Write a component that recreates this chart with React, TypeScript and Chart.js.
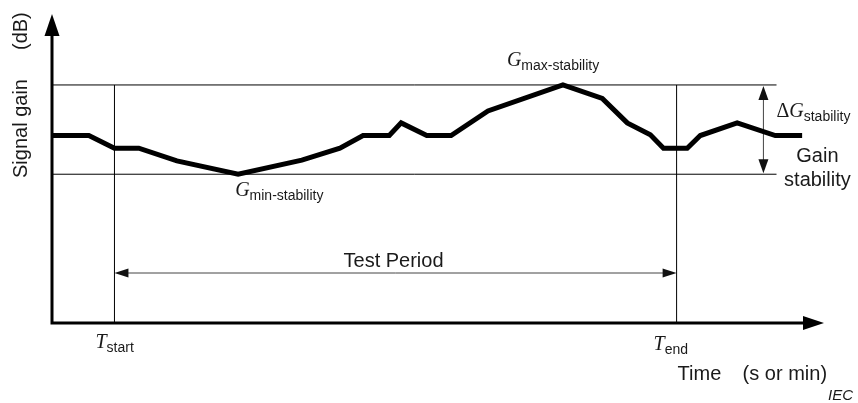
import React, { useEffect, useRef } from "react";
import { Chart, registerables } from "chart.js";

Chart.register(...registerables);

// Time (arbitrary units): T_start = 10, T_end = 100
const timeValues = [0, 5.9, 10, 13.9, 20, 29.8, 40, 46.1, 49.8, 54, 55.9, 60, 63.9, 69.8, 81.8, 88.1, 92.1, 95.8, 97.9, 101.7, 103.8, 109.7, 115.8, 120.1];
// Signal gain (dB, arbitrary): G_min = 10, G_max = 16
const gainValues = [12.6, 12.6, 11.75, 11.75, 10.9, 10.0, 10.95, 11.75, 12.6, 12.6, 13.45, 12.6, 12.6, 14.25, 16.0, 15.1, 13.45, 12.65, 11.75, 11.75, 12.6, 13.45, 12.6, 12.6];

const timeMarks = [10, 100]; // T_start, T_end
const gainLimits = [10, 16]; // G_min, G_max
const testPeriodLevel = 3.36;
const deltaArrowTime = 113.9;
const limitLineEnd = 116;
const axisMax = { x: 123.6, y: 20.77 };

const TEXT = "#1a1a1a";
const SANS = "'Liberation Sans', Arial, sans-serif";
const SERIF = "'Liberation Serif', 'Times New Roman', serif";

function arrowHead(ctx: CanvasRenderingContext2D, tipX: number, tipY: number, dirX: number, dirY: number, len: number, half: number, color: string) {
  const bx = tipX - dirX * len;
  const by = tipY - dirY * len;
  const px = -dirY;
  const py = dirX;
  ctx.save();
  ctx.fillStyle = color;
  ctx.beginPath();
  ctx.moveTo(tipX, tipY);
  ctx.lineTo(bx + px * half, by + py * half);
  ctx.lineTo(bx - px * half, by - py * half);
  ctx.closePath();
  ctx.fill();
  ctx.restore();
}

function symbolLabel(ctx: CanvasRenderingContext2D, main: string, sub: string, x: number, y: number, prefix?: string) {
  ctx.save();
  ctx.fillStyle = TEXT;
  ctx.textBaseline = "alphabetic";
  ctx.textAlign = "left";
  let cx = x;
  if (prefix) {
    ctx.font = `20px ${SERIF}`;
    ctx.fillText(prefix, cx, y);
    cx += ctx.measureText(prefix).width;
  }
  ctx.font = `italic 20px ${SERIF}`;
  ctx.fillText(main, cx, y);
  cx += ctx.measureText(main).width;
  ctx.font = `14px ${SANS}`;
  ctx.fillText(sub, cx, y + 4);
  ctx.restore();
}

const decorPlugin = {
  id: "decor",
  afterDraw(chart: any) {
    const ctx: CanvasRenderingContext2D = chart.ctx;
    const xs = chart.scales.x;
    const ys = chart.scales.y;
    const X = (v: number) => xs.getPixelForValue(v);
    const Y = (v: number) => ys.getPixelForValue(v);
    const left = X(0);
    const bottom = Y(0);
    const right = X(axisMax.x);
    const top = Y(axisMax.y);

    // Arrowheads: test period and delta G
    const tpY = Y(testPeriodLevel);
    arrowHead(ctx, X(timeMarks[0]), tpY, -1, 0, 14, 4.5, "#111");
    arrowHead(ctx, X(timeMarks[1]), tpY, 1, 0, 14, 4.5, "#111");
    const dx = X(deltaArrowTime);
    arrowHead(ctx, dx, Y(gainLimits[1]) + 1, 0, -1, 14, 5, "#111");
    arrowHead(ctx, dx, Y(gainLimits[0]) - 1, 0, 1, 14, 5, "#111");

    // Axes
    ctx.save();
    ctx.strokeStyle = "#000";
    ctx.lineWidth = 3;
    ctx.beginPath();
    ctx.moveTo(left, bottom + 1.5);
    ctx.lineTo(left, top + 15);
    ctx.moveTo(left - 1.5, bottom);
    ctx.lineTo(right - 15, bottom);
    ctx.stroke();
    ctx.restore();
    arrowHead(ctx, left, top, 0, -1, 22, 7.5, "#000");
    arrowHead(ctx, right, bottom, 1, 0, 21, 7, "#000");

    // Labels
    symbolLabel(ctx, "G", "max-stability", X(81.8) - 56, Y(gainLimits[1]) - 19);
    symbolLabel(ctx, "G", "min-stability", X(29.8) - 3, Y(gainLimits[0]) + 22);
    symbolLabel(ctx, "T", "start", X(timeMarks[0]) - 19, bottom + 25);
    symbolLabel(ctx, "T", "end", X(timeMarks[1]) - 23, bottom + 27);
    symbolLabel(ctx, "G", "stability", dx + 13, Y(gainLimits[1]) + 32, "\u0394");

    ctx.save();
    ctx.fillStyle = TEXT;
    ctx.font = `20px ${SANS}`;
    ctx.textBaseline = "alphabetic";
    ctx.textAlign = "center";
    ctx.fillText("Gain", dx + 54, Y(gainLimits[0]) - 12);
    ctx.fillText("stability", dx + 54, Y(gainLimits[0]) + 12);
    ctx.fillText("Test Period", (X(timeMarks[0]) + X(timeMarks[1])) / 2 - 2, tpY - 6);
    ctx.textAlign = "left";
    ctx.fillText("Time", X(timeMarks[1]) + 1, bottom + 57);
    ctx.fillText("(s or min)", X(timeMarks[1]) + 66, bottom + 57);
    ctx.font = `italic 15px ${SANS}`;
    ctx.fillText("IEC", 828, bottom + 77);
    // rotated y title
    ctx.translate(left - 25, 0);
    ctx.rotate(-Math.PI / 2);
    ctx.font = `20px ${SANS}`;
    ctx.fillText("Signal gain", -178, 0);
    ctx.fillText("(dB)", -50, 0);
    ctx.restore();
  },
};

export default function App() {
  const ref = useRef<HTMLCanvasElement>(null);
  useEffect(() => {
    if (!ref.current) return;
    const curve = timeValues.map((t, i) => ({ x: t, y: gainValues[i] }));
    const thin = (pts: { x: number; y: number }[], color = "#000") => ({
      data: pts,
      showLine: true,
      borderColor: color,
      borderWidth: 1,
      pointRadius: 0,
      fill: false,
    });
    const chart = new Chart(ref.current, {
      type: "scatter",
      data: {
        datasets: [
          {
            data: curve,
            showLine: true,
            borderColor: "#000",
            borderWidth: 5,
            borderJoinStyle: "miter",
            borderCapStyle: "butt",
            pointRadius: 0,
            tension: 0,
            fill: false,
          } as any,
          thin([{ x: 0, y: gainLimits[1] }, { x: limitLineEnd, y: gainLimits[1] }]),
          thin([{ x: 0, y: gainLimits[0] }, { x: limitLineEnd, y: gainLimits[0] }]),
          thin([{ x: timeMarks[0], y: 0 }, { x: timeMarks[0], y: gainLimits[1] }]),
          thin([{ x: timeMarks[1], y: 0 }, { x: timeMarks[1], y: gainLimits[1] }]),
          thin([{ x: timeMarks[0] + 1, y: testPeriodLevel }, { x: timeMarks[1] - 1, y: testPeriodLevel }], "#444"),
          thin([{ x: deltaArrowTime, y: gainLimits[0] + 0.5 }, { x: deltaArrowTime, y: gainLimits[1] - 0.5 }], "#444"),
        ],
      },
      options: {
        animation: false,
        responsive: true,
        maintainAspectRatio: false,
        devicePixelRatio: 1,
        layout: { padding: { left: 52, right: 34, top: 14, bottom: 80 } },
        plugins: { legend: { display: false }, tooltip: { enabled: false } },
        scales: {
          x: { type: "linear", min: 0, max: axisMax.x, display: false },
          y: { type: "linear", min: 0, max: axisMax.y, display: false },
        },
      },
      plugins: [decorPlugin],
    });
    return () => chart.destroy();
  }, []);
  return (
    <div style={{ position: "absolute", left: 0, top: 0, width: 858, height: 403, background: "#fff" }}>
      <canvas ref={ref} />
    </div>
  );
}
